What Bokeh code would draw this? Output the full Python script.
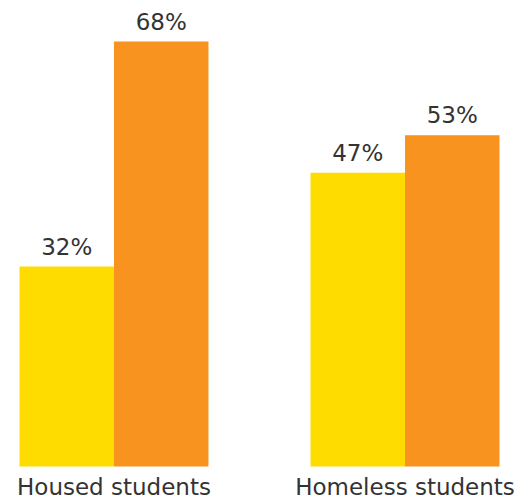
from bokeh.plotting import figure
from bokeh.models import ColumnDataSource, FactorRange, Range1d
from bokeh.embed import file_html
from bokeh.resources import INLINE
from bokeh.core.properties import value

groups = ["Housed students", "Homeless students"]
series = ["Series 1", "Series 2"]
housed = [32, 68]
homeless = [47, 53]
labels_housed = ["32%", "68%"]
labels_homeless = ["47%", "53%"]
colors = ["#FFDC00", "#F7931E"]

xs = [(g, s) for g in groups for s in series]
vals = housed + homeless
labs = labels_housed + labels_homeless
cols = colors * 2

src = ColumnDataSource(dict(x=xs, top=vals, lab=labs, color=cols))

p = figure(width=518, height=501, output_backend="svg", toolbar_location=None,
           x_range=FactorRange(factors=xs, group_padding=1.08, range_padding=0.201,
                               range_padding_units="absolute"),
           y_range=Range1d(-5.6, 74.56),
           min_border=0, min_border_left=0, min_border_right=0,
           min_border_top=0, min_border_bottom=0)
p.vbar(x="x", top="top", bottom=0, width=1.0, color="color", line_color=None, source=src)
p.text(x="x", y="top", text="lab", source=src, text_align="center",
       text_baseline="alphabetic", y_offset=-20, text_font=value("DejaVu Sans"),
       text_font_size="23px", text_color="#333333")

gsrc = ColumnDataSource(dict(x=groups, y=[0, 0]))
p.text(x="x", y="y", text="x", source=gsrc, text_align="center",
       text_baseline="alphabetic", y_offset=20, text_font=value("DejaVu Sans"),
       text_font_size="23px", text_color="#333333")

p.axis.visible = False
p.grid.visible = False
p.outline_line_color = None
p.background_fill_color = "white"
p.border_fill_color = "white"

open("out.html", "w").write(file_html(p, INLINE))
